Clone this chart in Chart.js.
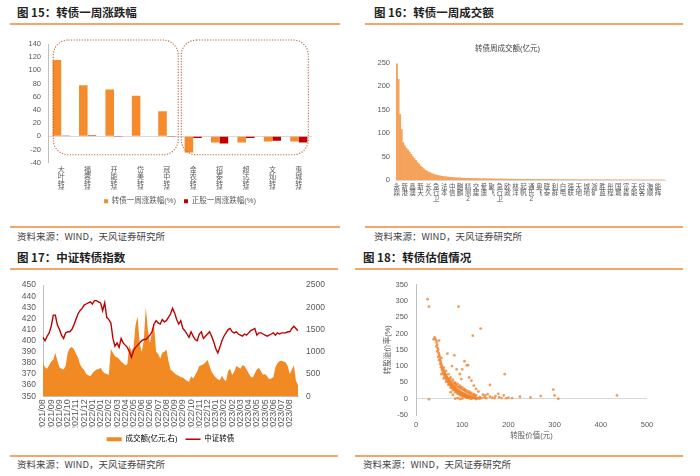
<!DOCTYPE html>
<html><head><meta charset="utf-8">
<script src="https://cdn.jsdelivr.net/npm/chart.js@4.4.0/dist/chart.umd.min.js"></script>
<style>
body{margin:0;width:700px;height:476px;background:#fff;position:relative;overflow:hidden;font-family:"Noto Sans CJK SC","Liberation Sans",sans-serif;}
.t{position:absolute;font-weight:bold;font-size:11.5px;color:#222;line-height:1;white-space:nowrap}
.src{position:absolute;font-size:9.5px;color:#444;line-height:1;white-space:nowrap}
.ln{position:absolute;height:1.5px;background:#F2A66A}
canvas{position:absolute}
</style></head><body>
<div class="t" style="left:17px;top:7px">图 15：转债一周涨跌幅</div>
<div class="ln" style="left:10px;top:23px;width:330px"></div>
<div class="ln" style="left:10px;top:226px;width:330px"></div>
<div class="src" style="left:17px;top:232px">资料来源：WIND，天风证券研究所</div>

<div class="t" style="left:374px;top:7px">图 16：转债一周成交额</div>
<div class="ln" style="left:365px;top:23px;width:318px"></div>
<div class="ln" style="left:365px;top:226px;width:318px"></div>
<div class="src" style="left:374px;top:232px">资料来源：WIND，天风证券研究所</div>

<div class="t" style="left:17px;top:252px">图 17：中证转债指数</div>
<div class="ln" style="left:10px;top:268px;width:328px"></div>
<div class="ln" style="left:10px;top:455px;width:328px"></div>
<div class="src" style="left:17px;top:460px">资料来源：WIND，天风证券研究所</div>

<div class="t" style="left:363px;top:252px">图 18：转债估值情况</div>
<div class="ln" style="left:355px;top:268px;width:328px"></div>
<div class="ln" style="left:355px;top:455px;width:328px"></div>
<div class="src" style="left:363px;top:460px">资料来源：WIND，天风证券研究所</div>

<canvas id="c15" width="350" height="185" style="left:0;top:30px"></canvas>
<canvas id="c16" width="350" height="185" style="left:350px;top:30px"></canvas>
<canvas id="c17" width="340" height="181" style="left:0;top:272px"></canvas>
<canvas id="c18" width="350" height="180" style="left:350px;top:272px"></canvas>

<script>
// ---------- Figure 15 data ----------
const fig15Bonds = ['大叶转债','福蓉转债','开能转债','岱美转债','冠中转债','金农转债','招泰转债','超达转债','文灿转债','惠城转债'];
const fig15BondChg = [115.8, 77.5, 70.9, 61.7, 38.2, -24.6, -9.3, -9.3, -7.8, -7.8];
const fig15StockChg = [0.3, 1.5, -1.2, 0.8, -1.0, -2.6, -10.8, -2.6, -6.7, -9.3];
const fig15Series = ['转债一周涨跌幅(%)', '正股一周涨跌幅(%)'];

// ---------- Figure 16 data ----------
const fig16Title = '转债周成交额(亿元)';
const fig16Shown = ['永鼎','新港','晶澳','新天','长久','急行卫','法本','中信','麒麟','精测2','交建','爱迪','聚飞','急行卫','欧政','林洋','起帆','通氏2','奥飞','联泰','利群','白电','强联','天地','城地','浙矿','胜蓝','彤程','国城','富淼','天能','好客','海顺','能辉'];
const fig16Turnover = [
 248,215,140,108,80,73,68,64,60,55,
 50,46,42,38,34,30,27,24,21,19,
 17,15.5,14,12.5,11.5,10.5,9.8,9.0,8.4,7.8,
 7.2,6.8,6.4,6.0,5.7,5.4,5.1,4.9,4.7,4.5,
 4.3,4.1,3.9,3.8,3.6,3.5,3.4,3.3,3.2,3.1,
 3.0,2.9,2.8,2.75,2.7,2.6,2.55,2.5,2.45,2.4,
 2.3,2.25,2.2,2.15,2.1,2.05,2.0,1.95,1.9,1.85,
 1.8,1.75,1.7,1.65,1.6,1.55,1.5,1.48,1.45,1.42,
 1.4,1.36,1.33,1.3,1.27,1.24,1.2,1.18,1.15,1.12,
 1.1,1.07,1.04,1.0,0.98,0.95,0.93,0.9,0.88,0.86,
 0.84,0.82,0.8,0.78,0.76,0.74,0.72,0.7,0.68,0.66,
 0.64,0.62,0.6,0.58,0.56,0.55,0.54,0.52,0.5,0.49,
 0.48,0.46,0.45,0.44,0.42,0.41,0.4,0.39,0.38,0.37,
 0.36,0.35,0.34,0.33,0.32,0.31,0.3,0.29,0.28,0.27,
 0.26,0.25,0.24,0.23,0.22,0.21,0.2,0.19,0.18,0.17,
 0.16,0.15,0.14,0.13,0.12,0.11,0.1,0.1,0.09,0.09,
 0.08,0.08,0.07,0.07,0.06,0.06,0.05,0.05,0.04,0.04
];

// ---------- Figure 17 data ----------
const fig17Ticks = ['2021/08','2021/09','2021/09','2021/10','2021/11','2021/12','2022/01','2022/01','2022/02','2022/03','2022/04','2022/05','2022/06','2022/06','2022/07','2022/08','2022/09','2022/09','2022/10','2022/11','2022/12','2023/01','2023/02','2023/02','2023/03','2023/04','2023/05','2023/05','2023/06','2023/07','2023/08'];
const fig17Index = [
 403,400,404,407,413,423,423,414,410,405,
 402,407,408,408,410,414,419,424,427,429,
 432,433,434,435,433,436,436,435,434,427,
 434,421,419,416,402,395,398,394,402,398,
 396,394,390,385,391,394,396,398,400,401,
 401,403,405,408,415,418,416,415,419,417,
 418,421,424,429,425,419,415,418,411,409,
 406,403,408,404,401,400,406,408,402,404,
 406,408,404,399,393,389,394,400,404,407,
 410,411,408,407,408,406,405,404,406,405,
 407,409,410,411,405,407,407,406,405,404,
 405,406,407,405,407,406,407,407,407,408,
 408,411,413,411,409
];
const fig17Turnover = [
 750,650,620,700,780,820,980,800,650,620,
 600,680,980,1080,1110,1060,960,870,720,640,
 590,500,470,450,520,560,600,610,640,560,
 520,500,480,1060,980,900,880,840,780,740,
 700,720,1150,1000,1100,1600,1800,1200,1000,1250,
 2000,1500,1200,1450,1600,1000,950,850,980,1000,
 1050,800,600,560,520,480,460,430,420,380,
 350,320,450,400,480,560,680,700,720,760,
 820,680,550,480,420,380,360,460,380,340,
 560,620,480,550,680,650,620,700,680,600,
 520,440,420,520,600,640,560,480,500,450,
 380,400,430,650,740,790,800,780,760,680,
 500,600,700,350,250
];
const fig17Series = ['成交额(亿元,右)', '中证转债'];

// ---------- Figure 18 data (转股价值, 转股溢价率) ----------
const fig18Points = [
 [25,305],[28,282],[92,282],[140,215],[123,193],[28,-2],[83,133],[68,138],[105,115],[110,102],[113,103],[192,75],[160,42],
 [297,28],[300,10],[435,10],[308,0],[270,8],[248,4],[225,6],[208,2],[200,3],[190,10],[185,2],[178,15],[172,8],[165,3],
 [155,14],[150,10],[148,4],[145,12],[142,2],[138,5],[135,22],[130,30],[125,40],[120,55],[115,65],[100,90],[95,75],
 [170,2],[180,5],[195,1],[152,1],[160,6],[88,90],[78,100],[98,60],
 [38,182],[40,188],[42,183],[44,178],[50,178],[45,172],[46,165],[44,160],[47,155],[48,150],[46,145],[49,140],[50,135],
 [48,128],[51,130],[52,122],[50,118],[53,115],[54,110],[52,106],[55,104],[56,100],[54,96],[57,95],[58,92],[56,88],
 [59,88],[60,85],[58,80],[61,82],[62,78],[60,74],[63,75],[64,72],[62,68],[65,70],[66,67],[64,63],[67,65],[68,62],
 [66,58],[69,60],[70,57],[68,54],[71,55],[72,53],[70,49],[73,51],[74,49],[72,45],[75,47],[76,45],[74,42],[77,44],
 [78,42],[76,38],[79,40],[80,39],[78,35],[81,38],[82,36],[80,32],[83,35],[84,33],[82,29],[85,32],[86,30],[84,27],
 [87,29],[88,28],[86,24],[89,27],[90,26],[88,22],[91,25],[92,24],[90,20],[93,23],[94,22],[92,18],[95,21],[96,20],
 [94,16],[97,19],[98,18],[96,14],[99,17],[100,17],[98,13],[101,16],[102,15],[100,11],[103,14],[104,14],[102,10],
 [105,13],[106,12],[104,8],[107,11],[108,11],[106,7],[109,10],[110,10],[108,6],[111,9],[112,8],[110,5],[113,8],
 [114,7],[112,4],[115,7],[116,6],[114,3],[117,6],[118,5],[116,2],[120,5],[122,4],[119,1],[124,3],[126,3],[128,2],
 [130,2],[125,1],[132,1],[135,1],[138,0],
 [55,125],[60,95],[65,85],[70,75],[75,65],[80,58],[85,50],[90,45],[95,40],[100,35],[105,30],[110,25],[115,22],
 [120,18],[125,14],[130,10],[72,62],[78,52],[88,38],[98,30],[108,20],[118,14],[128,8],[82,48],[92,36],[102,26],
 [112,18],[122,10],[86,42],[96,32],[106,24],[116,16],[126,12],[74,58],[84,46],[94,34],[104,28],
 [55,75],[60,62],[65,52],[70,42],[75,33],[80,26],[85,20],[90,15],[95,10],[100,7],[105,5],[110,3],[115,2],[85,0],
 [90,2],[100,0],[95,-1],[120,0],[130,-1],[75,20],[80,12]
];
const fig18XTitle = '转股价值(元)';
const fig18YTitle = '转股溢价率(%)';

// ---------- common ----------
Chart.defaults.font.family = '"Liberation Sans","Noto Sans CJK SC",sans-serif';
Chart.defaults.color = '#595959';
Chart.defaults.animation = false;
Chart.defaults.responsive = false;
Chart.defaults.devicePixelRatio = 1;
Chart.defaults.plugins.tooltip.enabled = false;

const ORANGE = '#F68B2C';
const RED = '#C00000';
const AXIS = '#BFBFBF';
const plain = v => String(v);

const groupBoxes = {
  id: 'groupBoxes',
  afterDatasetsDraw(chart, args, opts) {
    if (!opts || !opts.boxes) return;
    const {ctx, scales: {x, y}} = chart;
    ctx.save();
    ctx.strokeStyle = opts.color; ctx.lineWidth = opts.width; ctx.setLineDash(opts.dash);
    opts.boxes.forEach(b => {
      const l = x.getPixelForValue(b.from), r = x.getPixelForValue(b.to);
      const t = y.getPixelForValue(b.top), bt = y.getPixelForValue(b.bottom);
      ctx.beginPath(); ctx.roundRect(l, t, r - l, bt - t, opts.radius); ctx.stroke();
    });
    ctx.restore();
  }
};

// ---------- Figure 15 ----------
new Chart(document.getElementById('c15'), {
  type: 'bar',
  data: {
    labels: fig15Bonds.map(s => s.split('')),
    datasets: [
      {label: fig15Series[0], data: fig15BondChg, backgroundColor: ORANGE, barPercentage: 1, categoryPercentage: 0.65},
      {label: fig15Series[1], data: fig15StockChg, backgroundColor: RED, barPercentage: 1, categoryPercentage: 0.65}
    ]
  },
  options: {
    layout: {padding: {top: 14, right: 38, left: 0, bottom: 0}},
    scales: {
      x: {grid: {display: false, drawTicks: false}, border: {display: false},
          ticks: {maxRotation: 0, minRotation: 0, autoSkip: false, padding: 4, font: {size: 7, lineHeight: 1}},
          afterFit(s) { s.height = 26.8; }},
      y: {min: -40, max: 140, ticks: {stepSize: 20, padding: 7, autoSkip: false, font: {size: 7.5}},
          grid: {drawTicks: false, color: c => c.tick && c.tick.value === 0 ? '#D9D9D9' : 'rgba(0,0,0,0)'},
          border: {display: true, color: AXIS},
          afterFit(s) { s.width = 48; }}
    },
    plugins: {
      legend: {position: 'bottom', fullSize: false,
        labels: {boxWidth: 4, boxHeight: 4, padding: 8, font: {size: 7.5}, color: '#595959'}},
      groupBoxes: {color: '#B86A3A', width: 1.1, dash: [1.2, 1.5], radius: 15,
        boxes: [{from: -0.3, to: 4.43, top: 146, bottom: -28}, {from: 4.55, to: 9.36, top: 146, bottom: -28}]}
    }
  },
  plugins: [groupBoxes]
});

// ---------- Figure 16 ----------
const fig16Labels = fig16Turnover.map((v, i) => (i % 5 === 0 && fig16Shown[i / 5]) ? fig16Shown[i / 5].split('') : '');
new Chart(document.getElementById('c16'), {
  type: 'bar',
  data: {labels: fig16Labels,
    datasets: [{label: fig16Title, data: fig16Turnover, backgroundColor: '#F5A35A', barPercentage: 1, categoryPercentage: 1}]},
  options: {
    layout: {padding: {top: 0, right: 35, left: 0, bottom: 0}},
    scales: {
      x: {grid: {display: false, drawTicks: false}, border: {display: true, color: '#D9D9D9'},
          ticks: {maxRotation: 0, minRotation: 0, autoSkip: false, padding: 4, font: {size: 6.5, lineHeight: 0.95}},
          afterFit(s) { s.height = 35; }},
      y: {min: 0, max: 250, ticks: {stepSize: 50, padding: 6, autoSkip: false, font: {size: 7.5}},
          grid: {display: false, drawTicks: false}, border: {display: false},
          afterFit(s) { s.width = 46; }}
    },
    plugins: {
      legend: {display: false},
      title: {display: true, text: fig16Title, font: {size: 7.5, weight: 'normal'}, color: '#404040', padding: {top: 14.5, bottom: 9.5}}
    }
  }
});

// ---------- Figure 17 ----------
const fig17Labels = fig17Index.map((v, i) => (i % 4 === 0 && fig17Ticks[i / 4]) ? fig17Ticks[i / 4] : '');
new Chart(document.getElementById('c17'), {
  type: 'line',
  data: {labels: fig17Labels,
    datasets: [
      {label: fig17Series[0], data: fig17Turnover, yAxisID: 'y1', fill: 'origin', backgroundColor: '#F28A24',
       borderColor: '#F28A24', borderWidth: 0, pointRadius: 0, tension: 0, order: 2},
      {label: fig17Series[1], data: fig17Index, yAxisID: 'y', fill: false, borderColor: RED, borderWidth: 1.4,
       pointRadius: 0, tension: 0, order: 1}
    ]},
  options: {
    layout: {padding: {top: 9, right: 0, left: 0, bottom: 0}},
    scales: {
      x: {grid: {display: false, drawTicks: false}, border: {display: true, color: AXIS},
          ticks: {minRotation: 90, maxRotation: 90, autoSkip: false, padding: 3, font: {size: 9}},
          afterFit(s) { s.height = 31.25; }},
      y: {position: 'left', min: 350, max: 450, ticks: {stepSize: 10, padding: 7, autoSkip: false, font: {size: 8.5}, callback: plain},
          grid: {display: false, drawTicks: false}, border: {display: true, color: AXIS},
          afterFit(s) { s.width = 43; }},
      y1: {position: 'right', min: 0, max: 2500, ticks: {stepSize: 500, padding: 8, autoSkip: false, font: {size: 8.5}, callback: plain},
          grid: {display: false, drawTicks: false}, border: {display: false},
          afterFit(s) { s.width = 42; }}
    },
    plugins: {
      legend: {position: 'bottom', fullSize: false,
        labels: {usePointStyle: true, pointStyleWidth: 15, padding: 8, font: {size: 7.5}, color: '#595959',
          generateLabels: (chart) => chart.data.datasets.map((d, i) => ({
            text: d.label, pointStyle: 'line', strokeStyle: d.borderColor,
            fillStyle: d.borderColor, lineWidth: i === 0 ? 4 : 1.3, datasetIndex: i, hidden: false
          }))}}
    }
  }
});

// ---------- Figure 18 ----------
new Chart(document.getElementById('c18'), {
  type: 'scatter',
  data: {datasets: [{label: fig18YTitle, data: fig18Points.map(p => ({x: p[0], y: p[1]})),
    backgroundColor: 'rgba(240,132,48,0.8)', borderWidth: 0, pointRadius: 1.4}]},
  options: {
    layout: {padding: {top: 9, right: 53, left: 0, bottom: 0}},
    scales: {
      x: {type: 'linear', min: 0, max: 500, ticks: {stepSize: 100, padding: 5, font: {size: 7.5}},
          grid: {display: false, drawTicks: false}, border: {display: false},
          title: {display: true, text: fig18XTitle, font: {size: 7.5}, color: '#595959', padding: {top: 0, bottom: 12}},
          afterFit(s) { s.height = 37; }},
      y: {min: -50, max: 350, ticks: {stepSize: 50, padding: 8, autoSkip: false, font: {size: 7.5}},
          grid: {drawTicks: false, color: c => c.tick && c.tick.value === 0 ? '#D9D9D9' : 'rgba(0,0,0,0)'},
          border: {display: true, color: AXIS},
          title: {display: true, text: fig18YTitle, font: {size: 7.5}, color: '#595959', padding: {top: 33, bottom: 0}},
          afterFit(s) { s.width = 66; }}
    },
    plugins: {legend: {display: false}}
  }
});
</script>
</body></html>
